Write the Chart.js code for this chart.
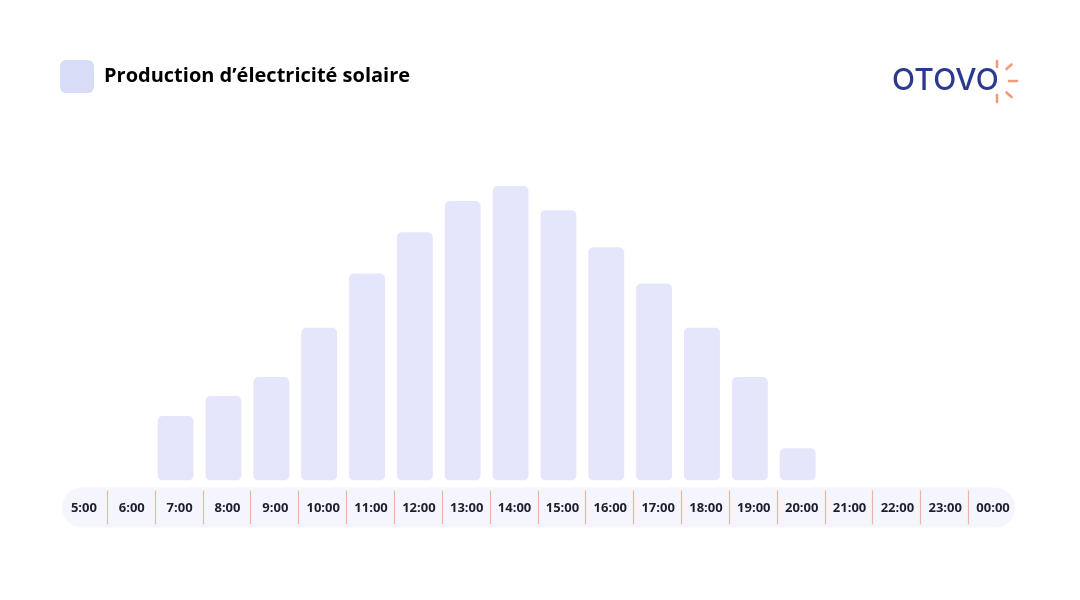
<!DOCTYPE html>
<html>
<head>
<meta charset="utf-8">
<script src="https://cdn.jsdelivr.net/npm/chart.js@4.4.1/dist/chart.umd.min.js"></script>
<style>
  html, body { margin: 0; padding: 0; background: #ffffff; }
  #wrap { position: relative; width: 1080px; height: 600px; }
  #logo { position: absolute; left: 892px; top: 61px; font-family: "Inter", "Open Sans", sans-serif; font-weight: 500; font-size: 30px; color: #2b3a8f; letter-spacing: 0.2px; }
</style>
</head>
<body>
<div id="wrap">
  <canvas id="c" width="1080" height="600"></canvas>
  <div id="logo">OTOVO</div>
</div>
<script>
const categories = ["5:00","6:00","7:00","8:00","9:00","10:00","11:00","12:00","13:00","14:00","15:00","16:00","17:00","18:00","19:00","20:00","21:00","22:00","23:00","00:00"];
const seriesName = "Production d\u2019électricité solaire";
const production = [0, 0, 64, 84, 103, 152, 206, 247, 278, 293, 269, 232, 196, 152, 103, 32, 0, 0, 0, 0];
const yMax = 300;

const legendGap = {
  id: 'legendGap',
  beforeInit(chart) {
    const fit = chart.legend.fit;
    chart.legend.fit = function () {
      fit.bind(chart.legend)();
      this.height += 76;
    };
  }
};

const stripPlugin = {
  id: 'strip',
  beforeDraw(chart) {
    const ctx = chart.ctx;
    const x = chart.scales.x;
    const area = chart.chartArea;
    const n = categories.length;
    const step = x.getPixelForValue(1) - x.getPixelForValue(0);
    const left = x.getPixelForValue(0) - step / 2 + 6;
    const right = x.getPixelForValue(n - 1) + step / 2 + 2;
    const top = area.bottom + 7, bottom = area.bottom + 47;
    ctx.save();
    ctx.fillStyle = '#f5f6fd';
    ctx.beginPath();
    ctx.roundRect(left, top, right - left, bottom - top, 20);
    ctx.fill();
    ctx.strokeStyle = '#eeb5a3';
    ctx.lineWidth = 1.2;
    for (let i = 0; i < n - 1; i++) {
      const sx = Math.round((x.getPixelForValue(i) + x.getPixelForValue(i + 1)) / 2 + 3) + 0.5;
      ctx.beginPath();
      ctx.moveTo(sx, top + 3);
      ctx.lineTo(sx, bottom - 3);
      ctx.stroke();
    }
    ctx.restore();
  },
  afterDraw(chart) {
    const ctx = chart.ctx;
    ctx.save();
    ctx.strokeStyle = '#ee9c7e';
    ctx.lineWidth = 2.6;
    ctx.lineCap = 'round';
    const rays = [[997,61,997,67],[1006.5,69,1011.5,64.5],[1009,81,1017,81],[1006.5,92.5,1011.5,97],[997,95,997,102]];
    rays.forEach(r => { ctx.beginPath(); ctx.moveTo(r[0], r[1]); ctx.lineTo(r[2], r[3]); ctx.stroke(); });
    ctx.restore();
  }
};

new Chart(document.getElementById('c'), {
  type: 'bar',
  data: {
    labels: categories,
    datasets: [{
      label: seriesName,
      data: production,
      backgroundColor: '#e4e7fb',
      borderRadius: 5,
      borderSkipped: false,
      barPercentage: 0.75,
      categoryPercentage: 1.0
    }]
  },
  options: {
    responsive: false,
    animation: false,
    layout: { padding: { left: 56, right: 67, top: 56, bottom: 72 } },
    plugins: {
      legend: {
        position: 'top',
        align: 'start',
        labels: {
          boxWidth: 34,
          boxHeight: 33,
          useBorderRadius: true,
          borderRadius: 6,
          padding: 4,
          color: '#23263a',
          font: { family: '"Open Sans", sans-serif', size: 20, weight: '700' },
          generateLabels(chart) {
            return [{ text: seriesName, fillStyle: '#d8dcf6', strokeStyle: 'rgba(0,0,0,0)', lineWidth: 0, borderRadius: 6, datasetIndex: 0, hidden: false }];
          }
        }
      },
      tooltip: { enabled: false }
    },
    scales: {
      x: {
        grid: { display: false },
        border: { display: false },
        ticks: { padding: 12, labelOffset: 4, color: '#1c1f2e', font: { family: '"Open Sans", sans-serif', size: 13, weight: '700' }, maxRotation: 0, autoSkip: false }
      },
      y: {
        display: false,
        min: 0,
        max: yMax
      }
    }
  },
  plugins: [legendGap, stripPlugin]
});
</script>
</body>
</html>
